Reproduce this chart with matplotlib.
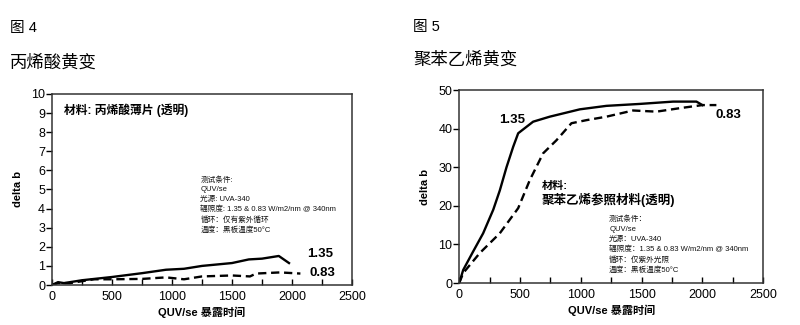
"""
QUV/se yellowing charts: acrylic (fig 4) and polystyrene (fig 5)
"""
import matplotlib
matplotlib.use("Agg")
import matplotlib.pyplot as plt
from matplotlib.ticker import MultipleLocator

plt.rcParams['font.family'] = ['Liberation Sans', 'Noto Sans CJK SC', 'DejaVu Sans']

# Fig 4 - acrylic film, delta b vs exposure hours
acr_x_135 = [0, 50, 100, 250, 500, 750, 950, 1100, 1250, 1500, 1640, 1750, 1890, 1975]
acr_y_135 = [0, 0.15, 0.1, 0.25, 0.42, 0.62, 0.8, 0.85, 1.0, 1.15, 1.34, 1.38, 1.52, 1.15]
acr_x_083 = [0, 50, 150, 350, 500, 750, 950, 1100, 1250, 1500, 1650, 1700, 1900, 2070]
acr_y_083 = [0, 0.1, 0.1, 0.3, 0.3, 0.32, 0.4, 0.3, 0.45, 0.5, 0.45, 0.6, 0.66, 0.6]

# Fig 5 - polystyrene reference, delta b vs exposure hours
ps_x_135 = [0, 33, 115, 197, 280, 334, 389, 444, 485, 608, 745, 992, 1211, 1485, 1759, 1951, 2000]
ps_y_135 = [0, 3.4, 8.2, 12.9, 19.0, 24.0, 30.0, 35.3, 38.8, 41.8, 43.1, 45.0, 45.9, 46.4, 47.0, 47.0, 46.1]
ps_x_083 = [0, 33, 170, 334, 485, 581, 690, 800, 923, 1047, 1211, 1430, 1622, 1814, 2000, 2115]
ps_y_083 = [0, 2.6, 7.8, 12.9, 19.4, 26.7, 33.6, 37.0, 41.4, 42.2, 43.1, 44.7, 44.4, 45.3, 46.1, 46.1]

cond_acr = "测试条件:\nQUV/se\n光源: UVA-340\n辐照度: 1.35 & 0.83 W/m2/nm @ 340nm\n循环：仅有紫外循环\n温度：黑板温度50°C"
cond_ps = "测试条件：\nQUV/se\n光源：UVA-340\n辐照度：1.35 & 0.83 W/m2/nm @ 340nm\n循环：仅紫外光照\n温度：黑板温度50°C"

fig = plt.figure(figsize=(8, 3.25), dpi=100)
ax1 = fig.add_axes([0.065, 0.123, 0.375, 0.588])
ax2 = fig.add_axes([0.574, 0.129, 0.380, 0.594])


def style_axes(ax, ymax, ystep):
    ax.set_xlim(0, 2500)
    ax.set_ylim(0, ymax)
    ax.xaxis.set_major_locator(MultipleLocator(500))
    ax.xaxis.set_minor_locator(MultipleLocator(250))
    ax.yaxis.set_major_locator(MultipleLocator(ystep))
    ax.tick_params(axis='x', which='both', direction='in', length=4, width=1,
                   labelsize=9, pad=4, top=False)
    ax.tick_params(axis='y', direction='out', length=4, width=1, labelsize=9, pad=1)
    for s in ax.spines.values():
        s.set_linewidth(1.1)
        s.set_color('#333333')
    ax.set_xlabel("QUV/se 暴露时间", fontsize=8, fontweight='bold', labelpad=3)
    ax.set_ylabel("delta b", fontsize=8, fontweight='bold', labelpad=6)


style_axes(ax1, 10, 1)
ax1.plot(acr_x_135, acr_y_135, color='black', lw=1.7)
ax1.plot(acr_x_083, acr_y_083, color='black', lw=1.7, dashes=(3.5, 2))
ax1.text(2130, 1.6, "1.35", fontsize=9.5, fontweight='bold', va='center')
ax1.text(2150, 0.63, "0.83", fontsize=9.5, fontweight='bold', va='center')
ax1.text(97, 9.15, "材料: 丙烯酸薄片 (透明)", fontsize=8.5, fontweight='bold', va='center')
ax1.text(1236, 5.7, cond_acr, fontsize=5.5, va='top', linespacing=1.5, color='#111111')

style_axes(ax2, 50, 10)
ax2.plot(ps_x_135, ps_y_135, color='black', lw=1.7)
ax2.plot(ps_x_083, ps_y_083, color='black', lw=1.7, dashes=(3.5, 2))
ax2.text(436, 42.2, "1.35", fontsize=9.5, fontweight='bold', va='center', ha='center')
ax2.text(2211, 43.5, "0.83", fontsize=9.5, fontweight='bold', va='center', ha='center')
ax2.text(677, 25.2, "材料:", fontsize=8, fontweight='bold', va='center')
ax2.text(677, 21.5, "聚苯乙烯参照材料(透明)", fontsize=9, fontweight='bold', va='center')
ax2.text(1233, 17.4, cond_ps, fontsize=5.5, va='top', linespacing=1.5, color='#111111')

# figure titles
fig.text(10 / 800, 1 - 28 / 325, "图 4", fontsize=10.5, va='center')
fig.text(10 / 800, 1 - 63 / 325, "丙烯酸黄变", fontsize=12.5, va='center')
fig.text(413 / 800, 1 - 27 / 325, "图 5", fontsize=10.5, va='center')
fig.text(413 / 800, 1 - 60 / 325, "聚苯乙烯黄变", fontsize=12.5, va='center')

fig.savefig("out.png", dpi=100, facecolor='white')
